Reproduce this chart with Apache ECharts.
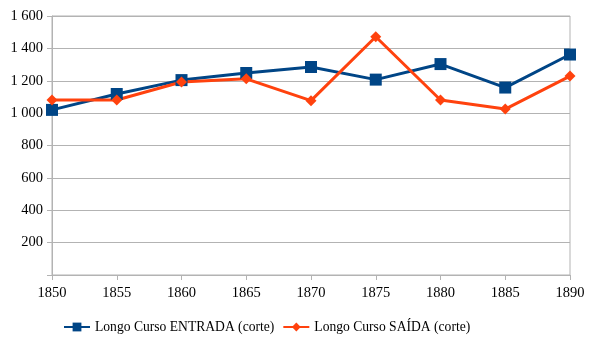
<!DOCTYPE html>
<html>
<head>
<meta charset="utf-8">
<script src="https://cdn.jsdelivr.net/npm/echarts@6/dist/echarts.min.js"></script>
<style>
  html, body { margin: 0; padding: 0; background: #ffffff; }
  #chart { width: 605px; height: 340px; }
</style>
</head>
<body>
<div id="chart"></div>
<script>
  // anos (eixo x)
  const anos = ['1850', '1855', '1860', '1865', '1870', '1875', '1880', '1885', '1890'];
  // valores
  const entrada = [1020, 1118, 1204, 1248, 1285, 1207, 1303, 1158, 1362];
  const saida = [1081, 1081, 1192, 1212, 1077, 1472, 1081, 1025, 1229];

  const serifFont = '"Liberation Serif", "DejaVu Serif", serif';

  function formatThousands(v) {
    if (v === 0) return '';
    if (v >= 1000) {
      const rest = String(v % 1000).padStart(3, '0');
      return Math.floor(v / 1000) + ' ' + rest;
    }
    return String(v);
  }

  const myChart = echarts.init(document.getElementById('chart'));
  const option = {
    animation: false,
    grid: {
      left: 52,
      right: 35,
      top: 16,
      bottom: 65,
      show: true,
      borderColor: '#b3b3b3',
      borderWidth: 1
    },
    legend: {
      bottom: 1,
      left: 58,
      itemWidth: 26,
      itemHeight: 11,
      itemGap: 8,
      textStyle: { fontFamily: serifFont, fontSize: 13.6, color: '#000' },
      data: ['Longo Curso ENTRADA (corte)', 'Longo Curso SAÍDA (corte)']
    },
    xAxis: {
      type: 'category',
      data: anos,
      boundaryGap: false,
      axisLine: { lineStyle: { color: '#b3b3b3', width: 1 } },
      axisTick: { show: true, length: 5, lineStyle: { color: '#b3b3b3' } },
      axisLabel: { fontFamily: serifFont, fontSize: 14.5, color: '#000', margin: 11 },
      splitLine: { show: false }
    },
    yAxis: {
      type: 'value',
      min: 0,
      max: 1600,
      interval: 200,
      axisLine: { show: true, lineStyle: { color: '#b3b3b3', width: 1 } },
      axisTick: { show: true, length: 5, lineStyle: { color: '#b3b3b3' } },
      axisLabel: { fontFamily: serifFont, fontSize: 14.5, color: '#000', margin: 9, formatter: formatThousands },
      splitLine: { lineStyle: { color: '#b3b3b3', width: 1 } }
    },
    series: [
      {
        name: 'Longo Curso ENTRADA (corte)',
        type: 'line',
        data: entrada,
        symbol: 'rect',
        symbolSize: 12,
        lineStyle: { color: '#004586', width: 3 },
        itemStyle: { color: '#004586' }
      },
      {
        name: 'Longo Curso SAÍDA (corte)',
        type: 'line',
        data: saida,
        symbol: 'diamond',
        symbolSize: 11,
        lineStyle: { color: '#ff420e', width: 3 },
        itemStyle: { color: '#ff420e' }
      }
    ]
  };
  myChart.setOption(option);
</script>
</body>
</html>
